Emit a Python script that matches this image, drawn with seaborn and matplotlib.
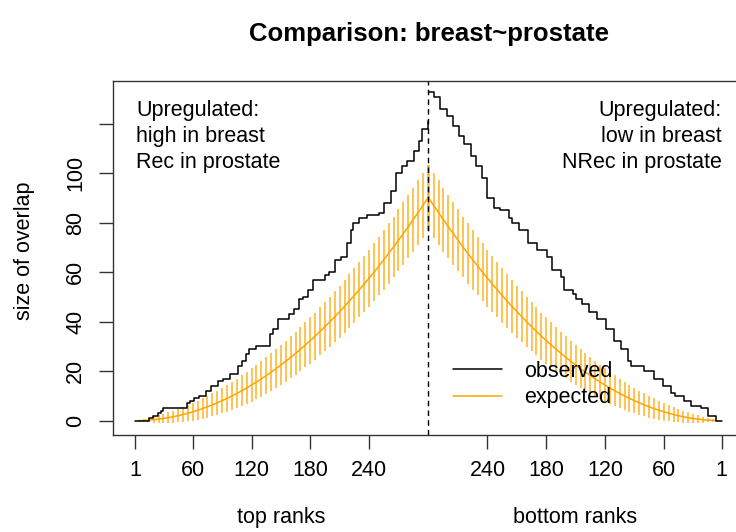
import numpy as np
import pandas as pd
import matplotlib
matplotlib.use('Agg')
from matplotlib import pyplot as plt
from matplotlib.lines import Line2D
import matplotlib.transforms as mtransforms
import seaborn as sns

N = 300  # ranks shown on each side

# observed overlap, top ranks (left half)
left_rank = [1, 13, 15, 19, 24, 28, 30, 54, 57, 61, 66, 74, 79, 86, 91, 98,
             106, 110, 114, 117, 125, 136, 139, 142, 147, 154, 158, 163, 168,
             173, 178, 183, 190, 195, 199, 205, 211, 217, 222, 224, 230, 238,
             250, 255, 262, 268, 274, 279, 286, 291, 294, 300]
left_obs = [0, 0, 1, 2, 3, 4, 5, 7, 8, 9, 10, 12, 14, 16, 17, 19,
            22, 24, 27, 29, 30, 30, 35, 37, 41, 41, 43, 45, 49,
            50, 53, 57, 57, 59, 60, 65, 66, 72, 77, 80, 82, 83,
            84, 88, 93, 100, 103, 105, 109, 113, 118, 121]

# observed overlap, bottom ranks (right half, mirrored)
right_rank = [300, 295, 288, 281, 275, 269, 264, 257, 252, 246, 241, 240, 233,
              227, 218, 215, 208, 199, 189, 179, 174, 165, 162, 153, 150, 143,
              136, 128, 119, 111, 104, 97, 93, 87, 80, 70, 61, 53, 48, 39, 32,
              22, 15, 7, 1]
right_obs = [133, 131, 126, 123, 119, 115, 112, 107, 103, 98, 92, 90, 86,
             85, 82, 80, 77, 72, 69, 66, 61, 58, 53, 51, 49, 47,
             44, 41, 37, 32, 29, 24, 22, 22, 20, 17, 14, 11, 10, 8, 6,
             5, 2, 0, 0]

# expected overlap and +/- 2 sd, every 5 ranks (same on both sides)
exp_rank = np.arange(5, 301, 5)
exp_mean = [0.0, 0.1, 0.2, 0.4, 0.6, 0.9, 1.2, 1.6, 2.0, 2.5,
            3.0, 3.6, 4.2, 4.9, 5.6, 6.4, 7.2, 8.1, 9.0, 10.0,
            11.0, 12.1, 13.2, 14.4, 15.6, 16.9, 18.2, 19.6, 21.0, 22.5,
            24.0, 25.6, 27.2, 28.9, 30.6, 32.4, 34.2, 36.1, 38.0, 40.0,
            42.0, 44.1, 46.2, 48.4, 50.6, 52.9, 55.2, 57.6, 60.0, 62.5,
            65.0, 67.6, 70.2, 72.9, 75.6, 78.4, 81.2, 84.1, 87.0, 90.0]
exp_2sd = [0.3, 0.6, 0.9, 1.2, 1.5, 1.8, 2.1, 2.4, 2.7, 3.0,
           3.3, 3.6, 3.8, 4.1, 4.4, 4.7, 4.9, 5.2, 5.4, 5.7,
           5.9, 6.2, 6.4, 6.7, 6.9, 7.2, 7.4, 7.6, 7.8, 8.1,
           8.3, 8.5, 8.7, 8.9, 9.1, 9.3, 9.5, 9.7, 9.9, 10.1,
           10.3, 10.5, 10.7, 10.9, 11.0, 11.2, 11.4, 11.5, 11.7, 11.9,
           12.0, 12.2, 12.3, 12.5, 12.6, 12.8, 12.9, 13.0, 13.2, 13.3]

xtick_ranks = [1, 60, 120, 180, 240]

sns.set_theme(style='ticks')
plt.rcParams['font.family'] = ['Liberation Sans', 'DejaVu Sans']
plt.rcParams['font.size'] = 15.5
plt.rcParams['text.color'] = 'black'
plt.rcParams['axes.labelcolor'] = 'black'
plt.rcParams['xtick.color'] = 'black'
plt.rcParams['ytick.color'] = 'black'

ORANGE = '#FFA500'

fig = plt.figure(figsize=(7.36, 5.32), dpi=100)
ax = fig.add_axes([112.5 / 736, 97 / 532, 632.5 / 736, 354 / 532])

df_left = pd.DataFrame({'pos': left_rank, 'size': left_obs})
df_right = pd.DataFrame({'pos': [2 * N + 1 - r for r in right_rank], 'size': right_obs})
df_exp_l = pd.DataFrame({'pos': exp_rank, 'size': exp_mean, 'sd2': exp_2sd})
df_exp_r = pd.DataFrame({'pos': 2 * N + 1 - exp_rank, 'size': exp_mean, 'sd2': exp_2sd})

# expected with error bars
for d in (df_exp_l, df_exp_r):
    ax.vlines(d['pos'], d['size'] - d['sd2'], d['size'] + d['sd2'],
              color=ORANGE, lw=1.1, alpha=0.85)
    sns.lineplot(ax=ax, data=d, x='pos', y='size', color=ORANGE, lw=1.1)

# observed
for d in (df_left, df_right):
    sns.lineplot(ax=ax, data=d, x='pos', y='size', color='black', lw=1.1,
                 drawstyle='steps-post')

ax.axvline(N + 0.5, color='black', ls='--', lw=1.0, dashes=(4, 3))

ax.set_xlim(-22, 624)
ax.set_ylim(-5.8, 137.3)

xt = xtick_ranks + [2 * N + 1 - r for r in xtick_ranks[::-1]]
xl = [str(r) for r in xtick_ranks] + [str(r) for r in xtick_ranks[::-1]]
ax.set_xticks(xt)
ax.set_xticklabels(xl)
ax.set_yticks([0, 20, 40, 60, 80, 100, 120])
ax.set_yticklabels(['0', '20', '40', '60', '80', '100', ''], rotation=90, va='center')
ax.tick_params(axis='both', direction='out', length=10, width=1, color='#333333',
               labelsize=15.5, labelcolor='black')
ax.tick_params(axis='x', pad=8)
ax.tick_params(axis='y', pad=9)

for s in ax.spines.values():
    s.set_visible(True)
    s.set_color('#333333')
    s.set_linewidth(1)

ax.set_xlabel('')
ax.set_ylabel('size of overlap', fontsize=15.5)
ax.yaxis.set_label_coords(-0.122, 0.52)

trans = mtransforms.blended_transform_factory(ax.transData, ax.transAxes)
ax.text(150.5, -0.232, 'top ranks', transform=trans, ha='center', va='center', fontsize=15.5)
ax.text(450.5, -0.232, 'bottom ranks', transform=trans, ha='center', va='center', fontsize=15.5)

ax.set_title('Comparison: breast~prostate', fontsize=18.5, fontweight='bold', pad=29)

ax.text(2, 129.5, 'Upregulated:\nhigh in breast\nRec in prostate', ha='left', va='top',
        fontsize=15.5, linespacing=1.3)
ax.text(600, 129.5, 'Upregulated:\nlow in breast\nNRec in prostate', ha='right', va='top',
        fontsize=15.5, multialignment='right', linespacing=1.3)

handles = [Line2D([], [], color='black', lw=1.1), Line2D([], [], color=ORANGE, lw=1.1)]
ax.legend(handles, ['observed', 'expected'], frameon=False, loc='upper left',
          bbox_to_anchor=(0.538, 0.21), handlelength=2.3, handletextpad=1.0,
          labelspacing=0.25, borderpad=0, borderaxespad=0, fontsize=15.5)

fig.savefig('out.png', dpi=100)
